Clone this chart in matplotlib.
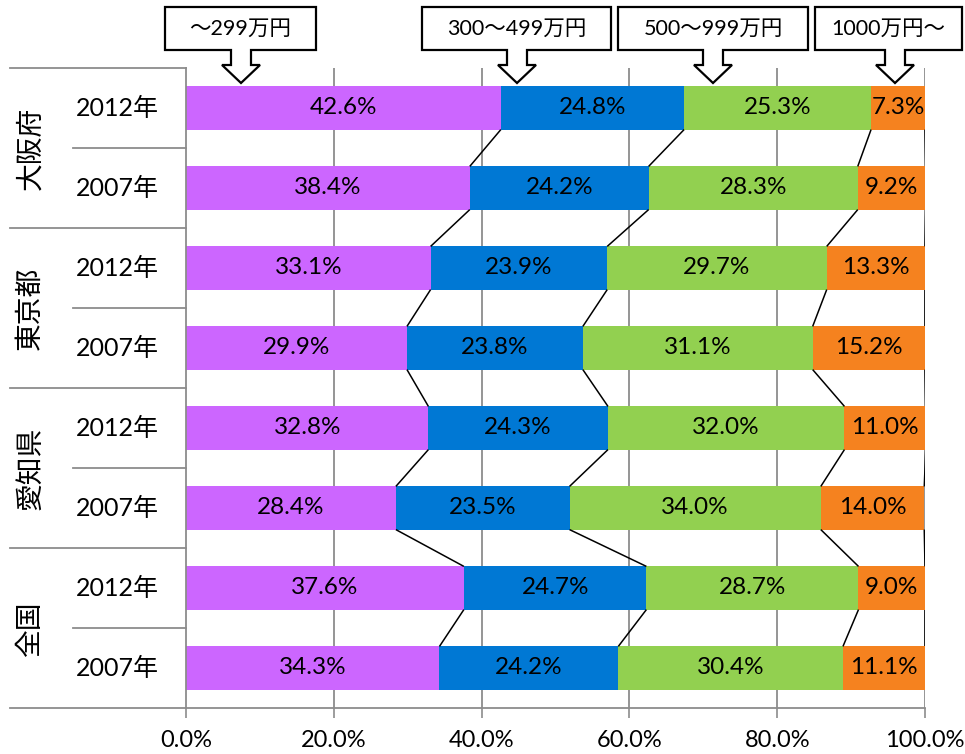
import matplotlib
matplotlib.use("Agg")
import matplotlib.pyplot as plt
from matplotlib.patches import Polygon
from matplotlib.transforms import blended_transform_factory
import numpy as np

plt.rcParams['font.family'] = ['Lato', 'Noto Sans CJK JP', 'DejaVu Sans']

# Income brackets (share of households, %)
brackets = ["〜299万円", "300〜499万円", "500〜999万円", "1000万円〜"]
colors = ["#CC66FF", "#0078D4", "#92D050", "#F5821F"]

regions = ["大阪府", "東京都", "愛知県", "全国"]
years = ["2012年", "2007年"]

under300 = [42.6, 38.4, 33.1, 29.9, 32.8, 28.4, 37.6, 34.3]
r300_499 = [24.8, 24.2, 23.9, 23.8, 24.3, 23.5, 24.7, 24.2]
r500_999 = [25.3, 28.3, 29.7, 31.1, 32.0, 34.0, 28.7, 30.4]
over1000 = [7.3, 9.2, 13.3, 15.2, 11.0, 14.0, 9.0, 11.1]

x_ticks = [0, 20, 40, 60, 80, 100]
x_tick_labels = ["0.0%", "20.0%", "40.0%", "60.0%", "80.0%", "100.0%"]

W, H = 965, 754
fig = plt.figure(figsize=(W / 100, H / 100), dpi=100)
ax = fig.add_axes([186 / W, 1 - 708 / H, (925 - 186) / W, (708 - 68) / H])

series = [under300, r300_499, r500_999, over1000]
n = len(under300)
ypos = np.arange(n)
bar_h = 0.54
grid_col = "#8C8C8C"

left = np.zeros(n)
bounds = []
for vals, col in zip(series, colors):
    vals = np.array(vals)
    ax.barh(ypos, vals, left=left, height=bar_h, color=col, zorder=2)
    for y, l, v in zip(ypos, left, vals):
        ax.text(l + v / 2, y, f"{v:.1f}%", ha="center", va="center",
                fontsize=17.5, color="black", zorder=4)
    left = left + vals
    bounds.append(left.copy())

# series lines between consecutive bars
for b in bounds:
    for i in range(n - 1):
        ax.plot([b[i], b[i + 1]], [ypos[i] + bar_h / 2, ypos[i + 1] - bar_h / 2],
                color="black", lw=1.1, zorder=3, solid_capstyle="butt")

ax.set_xlim(0, 100)
ax.set_ylim(n - 0.5, -0.5)
ax.set_xticks(x_ticks)
ax.set_xticklabels(x_tick_labels, fontsize=17)
ax.set_yticks([])
ax.tick_params(axis="x", direction="out", length=7, width=1.2, color=grid_col, pad=9)
for x in x_ticks[1:]:
    ax.axvline(x, color=grid_col, lw=1.3, zorder=1)
for s in ["top", "right"]:
    ax.spines[s].set_visible(False)
for s in ["left", "bottom"]:
    ax.spines[s].set_color(grid_col)
    ax.spines[s].set_linewidth(1.3)

# category table on the left
span = 925 - 186
tr = blended_transform_factory(ax.transAxes, ax.transData)
x_outer = (10 - 186) / span
x_inner = (73 - 186) / span
for k in range(len(regions) + 1):
    ax.plot([x_outer, 0], [k * 2 - 0.5] * 2, transform=tr, color=grid_col,
            lw=1.3, clip_on=False)
for k in range(len(regions)):
    ax.plot([x_inner, 0], [k * 2 + 0.5] * 2, transform=tr, color=grid_col,
            lw=1.3, clip_on=False)
    ax.text((30 - 186) / span, k * 2 + 0.5, regions[k], transform=tr,
            rotation=90, ha="center", va="center", fontsize=20)
    for j, yr in enumerate(years):
        ax.text((117 - 186) / span, k * 2 + j, yr, transform=tr,
                ha="center", va="center", fontsize=18)

# callout boxes with downward arrows above the plot
callouts = [(165, 316, 241), (422, 611, 517), (618, 808, 713), (815, 962, 895)]
for label, (l, r, cx) in zip(brackets, callouts):
    top, bot, neck, tip = 7, 50, 65, 83
    pts = [(l, top), (r, top), (r, bot), (cx + 10, bot), (cx + 10, neck),
           (cx + 19, neck), (cx, tip), (cx - 19, neck), (cx - 10, neck),
           (cx - 10, bot), (l, bot)]
    pts = [(x / W, 1 - y / H) for x, y in pts]
    fig.patches.append(Polygon(pts, closed=True, facecolor="white",
                               edgecolor="black", lw=1.6,
                               transform=fig.transFigure, zorder=5))
    fig.text((l + r) / 2 / W, 1 - (top + bot) / 2 / H, label, ha="center",
             va="center", fontsize=15.5, zorder=6)

fig.savefig("out.png", dpi=100)
